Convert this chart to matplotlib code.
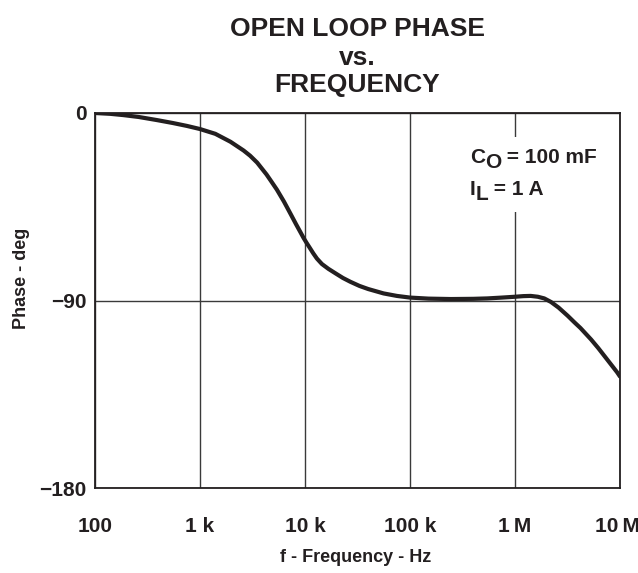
import matplotlib
matplotlib.use("Agg")
import matplotlib.pyplot as plt
from matplotlib.patches import Rectangle
import matplotlib.transforms as mtransforms

plt.rcParams['font.family'] = ['Liberation Sans', 'DejaVu Sans']
plt.rcParams['font.weight'] = 'bold'

# Data
freq_hz = [100, 140, 186, 260, 389, 550, 750, 1000, 1400, 1950, 2600, 3000,
           3500, 4300, 4800, 5400, 6300, 7300, 8200, 9000, 9700, 10400, 11000,
           12000, 13000, 14500, 16700, 20000, 23000, 27000, 33000, 40000, 56000,
           75000, 100000, 150000, 245000, 400000, 545000, 750000, 1000000,
           1200000, 1410000, 1650000, 1900000, 2200000, 2600000, 3170000,
           3700000, 4200000, 5300000, 6200000, 7200000, 8300000, 9400000,
           10000000]
phase_deg = [0, -0.4, -1, -1.9, -3.4, -4.8, -6.2, -7.7, -10, -13.8, -18, -20.5,
             -23.8, -29.5, -33, -36.8, -42.5, -48.5, -53.3, -57, -60, -62.5,
             -64.4, -67.4, -69.9, -72.5, -74.8, -77.3, -79.2, -81, -83, -84.5,
             -86.6, -87.8, -88.6, -89.1, -89.3, -89.2, -89, -88.6, -88.2,
             -87.9, -87.8, -88.2, -89, -90.7, -93.4, -97.3,
             -100.6, -103.2, -108.7, -112.8, -117, -121, -124.5,
             -126.5]

x_ticks = [1e2, 1e3, 1e4, 1e5, 1e6, 1e7]
x_tick_labels = ["100", "1 k", "10 k", "100 k", "1\u2009M", "10\u2009M"]
y_ticks = [0, -90, -180]
y_tick_labels = ["0", "\u221290", "\u2212180"]

title_lines = ["OPEN LOOP PHASE", "vs.", "FREQUENCY"]
x_label = "f - Frequency - Hz"
y_label = "Phase - deg"

W, H = 638, 573
fig = plt.figure(figsize=(W / 100, H / 100), dpi=100)
L, R, T, B = 95, 620, 113, 488
ax = fig.add_axes([L / W, 1 - B / H, (R - L) / W, (B - T) / H])

ax.set_xscale('log')
ax.set_xlim(1e2, 1e7)
ax.set_ylim(-180, 0)
ax.set_xticks(x_ticks)
ax.set_xticklabels(x_tick_labels)
ax.xaxis.set_minor_locator(matplotlib.ticker.NullLocator())
ax.set_yticks(y_ticks)
ax.set_yticklabels(y_tick_labels)
ax.tick_params(axis='both', length=0, labelsize=15, colors='#231f20')
ax.tick_params(axis='x', pad=21)
ax.tick_params(axis='y', pad=6)
for lbl in ax.get_xticklabels() + ax.get_yticklabels():
    lbl.set_fontweight('bold')
# keep the last x label inside the figure
last = ax.get_xticklabels()[-1]
last.set_transform(last.get_transform() +
                   mtransforms.ScaledTranslation(-3 / 100, 0, fig.dpi_scale_trans))

ax.grid(True, which='major', color='#3a3a3a', linewidth=1.0)
for s in ax.spines.values():
    s.set_color('#231f20')
    s.set_linewidth(1.3)

ax.plot(freq_hz, phase_deg, color='#231f20', linewidth=3.0,
        solid_capstyle='round', solid_joinstyle='round', zorder=4)

# white background behind annotation
fig.patches.append(Rectangle((455 / W, 1 - 212 / H), 145 / W, 75 / H,
                             transform=fig.transFigure, facecolor='white',
                             edgecolor='none', zorder=3))
ax.set_zorder(1)

fs = 15
c_txt = fig.text(470 / W, 1 - 163 / H, "C", fontsize=fs, fontweight='bold',
                 color='#231f20', va='baseline', ha='left', zorder=5)
fig.canvas.draw()
r = fig.canvas.get_renderer()
bb = c_txt.get_window_extent(r)
o_txt = fig.text(bb.x1 / W, (H - 168) / H, "O", fontsize=fs, fontweight='bold',
                 color='#231f20', va='baseline', ha='left', zorder=5)
fig.canvas.draw()
bb2 = o_txt.get_window_extent(r)
fig.text(bb2.x1 / W, 1 - 163 / H, " = 100 mF", fontsize=fs, fontweight='bold',
         color='#231f20', va='baseline', ha='left', zorder=5)

i_txt = fig.text(470 / W, 1 - 195 / H, "I", fontsize=fs, fontweight='bold',
                 color='#231f20', va='baseline', ha='left', zorder=5)
fig.canvas.draw()
bb3 = i_txt.get_window_extent(r)
l_txt = fig.text(bb3.x1 / W, 1 - 200 / H, "L", fontsize=fs, fontweight='bold',
                 color='#231f20', va='baseline', ha='left', zorder=5)
fig.canvas.draw()
bb4 = l_txt.get_window_extent(r)
fig.text(bb4.x1 / W, 1 - 195 / H, " = 1 A", fontsize=fs, fontweight='bold',
         color='#231f20', va='baseline', ha='left', zorder=5)

# Title
cx = (L + R) / 2 / W
for line, yy in zip(title_lines, [29, 58, 85]):
    fig.text(cx, 1 - yy / H, line, fontsize=19, fontweight='bold',
             ha='center', va='center', color='#231f20')

fig.text(cx - 0.003, 1 - 558 / H, x_label, fontsize=13, fontweight='bold',
         ha='center', va='center', color='#231f20')
fig.text(22 / W, 1 - 278 / H, y_label, fontsize=13, fontweight='bold',
         ha='center', va='center', rotation=90, color='#231f20')

fig.savefig("out.png", dpi=100)
